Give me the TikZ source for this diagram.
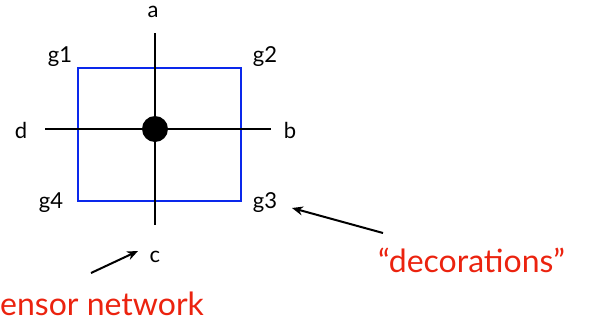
\documentclass[tikz,border=0pt]{standalone}
\usepackage{fontspec}
\setmainfont{Lato}
\usetikzlibrary{arrows.meta}
\definecolor{boxblue}{RGB}{10,40,235}
\definecolor{labred}{RGB}{235,35,15}
\tikzset{
  axis/.style={line width=2.6pt, black},
  gbox/.style={draw=boxblue, line width=1.8pt},
  lab/.style={font=\fontsize{22}{24}\selectfont, anchor=base, inner sep=0pt},
  redlab/.style={font=\fontsize{32}{36}\selectfont, text=labred, anchor=base west, inner sep=0pt},
  pointer/.style={line width=2pt, -{Stealth[length=11pt,width=9pt]}}
}
\begin{document}
\begin{tikzpicture}[x=1pt,y=-1pt]
\useasboundingbox (0,0) rectangle (592,327);
% box
\node[gbox, minimum width=163pt, minimum height=133pt, inner sep=0pt, anchor=north west] (box) at (77,67) {};
% axes
\coordinate (top) at (155,33);
\coordinate (bot) at (155,225);
\coordinate (lft) at (45,129);
\coordinate (rgt) at (271,129);
\draw[axis] (top) -- (bot);
\draw[axis] (lft) -- (rgt);
\node[circle, fill=black, minimum size=26pt, inner sep=0pt] (dot) at (155,129) {};
% labels
\node[lab] (la) at (153,17) {a};
\node[lab] (lb) at (290,138) {b};
\node[lab] (lc) at (155,262) {c};
\node[lab] (ld) at (21,138) {d};
\node[lab] (g1) at (60,62) {g1};
\node[lab] (g2) at (265,62) {g2};
\node[lab] (g3) at (265,208) {g3};
\node[lab] (g4) at (51,208) {g4};
% red texts
\node[redlab] (deco) at (378,272) {``decorations''};
\node[redlab] (tn) at (0,315) {ensor network};
% pointers
\coordinate (ctail) at (91,273);
\coordinate (chead) at (138,251);
\draw[pointer] (ctail) -- (chead);
\coordinate (dtail) at (383,233);
\coordinate (dhead) at (292,208);
\draw[pointer] (dtail) -- (dhead);
\end{tikzpicture}
\end{document}
